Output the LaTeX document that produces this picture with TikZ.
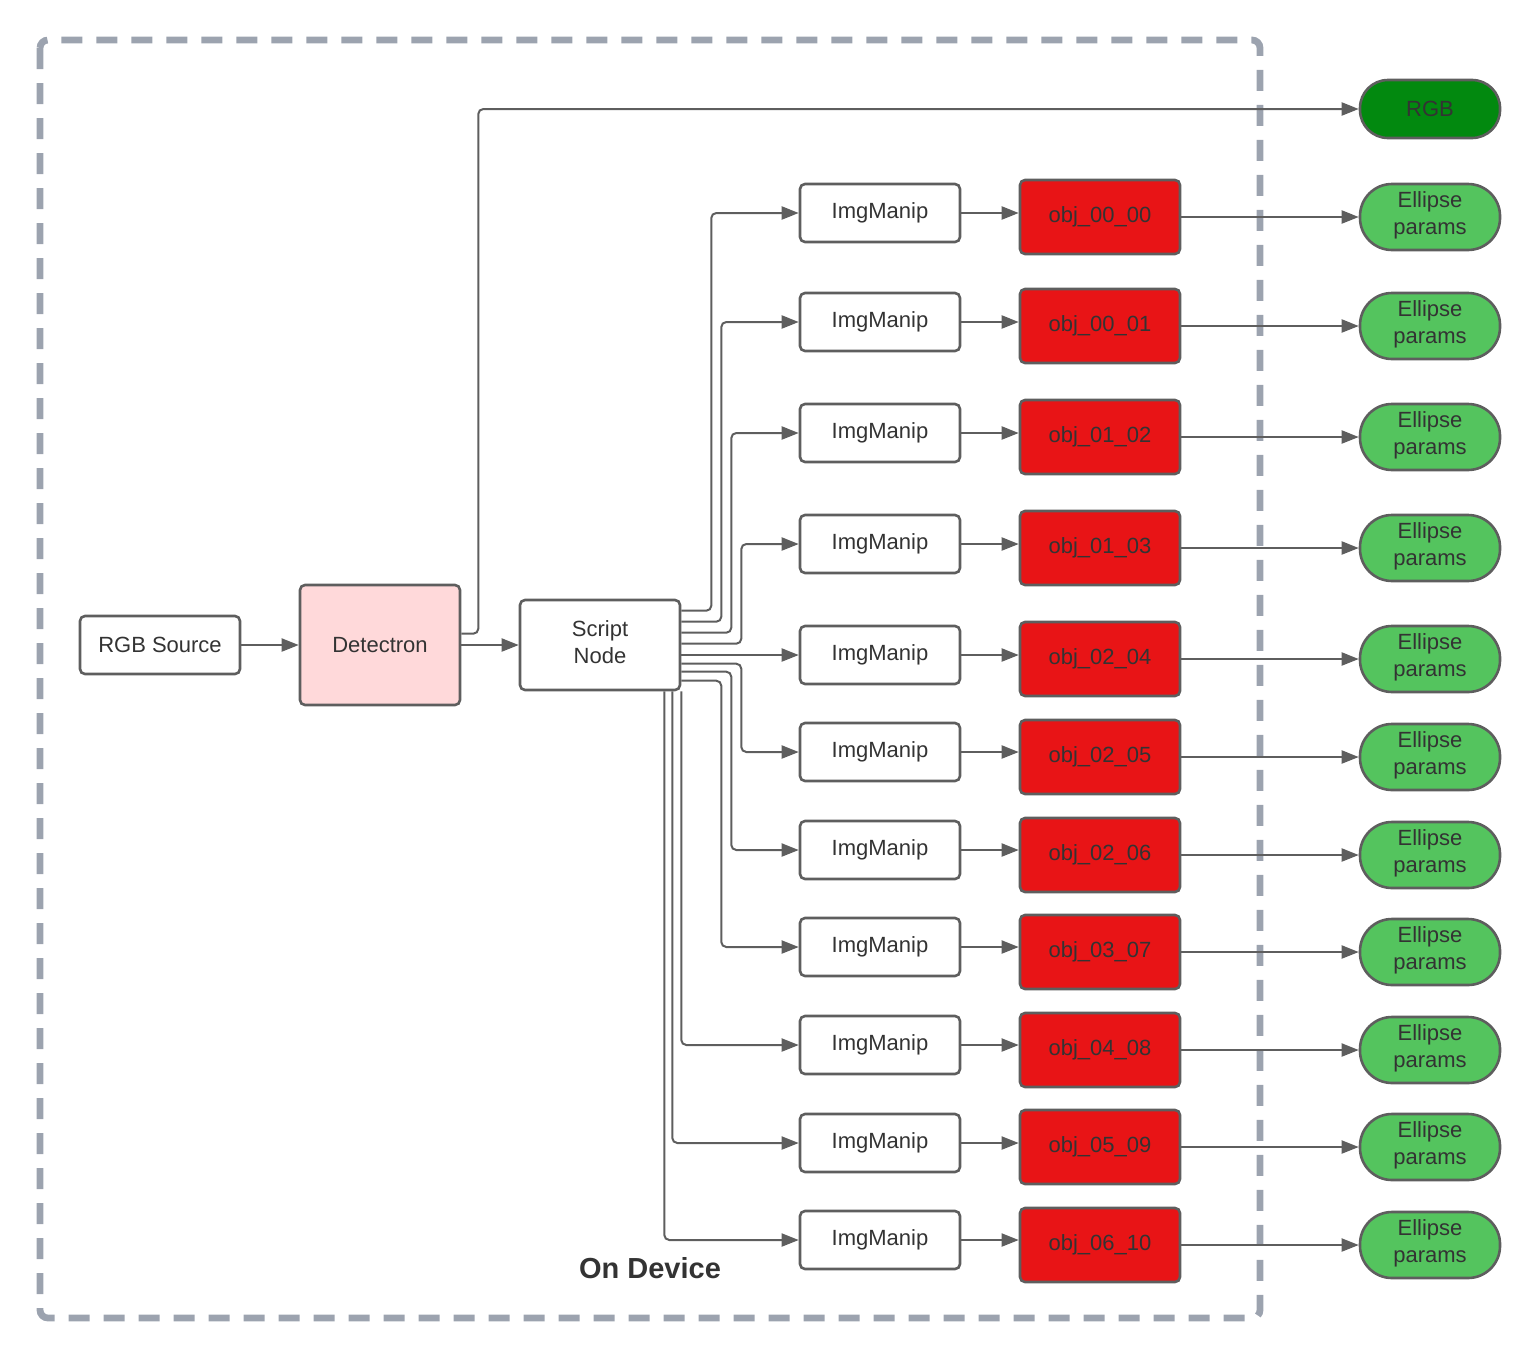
\documentclass[tikz,border=0pt]{standalone}
\usepackage{fontspec}
\setmainfont{Liberation Sans}
\usetikzlibrary{arrows.meta,calc}
\definecolor{bord}{HTML}{5E5E5E}
\definecolor{txt}{HTML}{333333}
\definecolor{redf}{HTML}{E81416}
\definecolor{greenf}{HTML}{54C45E}
\definecolor{dgreen}{HTML}{02890F}
\definecolor{pinkf}{HTML}{FFD9DA}
\definecolor{dashc}{HTML}{9CA3AF}
\begin{document}
\begin{tikzpicture}[x=0.5pt,y=-0.5pt,
  font=\fontsize{11pt}{13.5pt}\selectfont, text=txt,
  box/.style={draw=bord, line width=1.3pt, rounded corners=2.5pt, fill=white, inner sep=0pt, align=center},
  imgbox/.style={box, minimum width=80pt, minimum height=29pt},
  objbox/.style={box, fill=redf, minimum width=80pt, minimum height=37pt},
  ellbox/.style={box, fill=greenf, minimum width=70pt, minimum height=33pt, rounded corners=16pt, text depth=4.4pt},
  conn/.style={draw=bord, line width=1pt, rounded corners=2.5pt, -{Triangle[length=8.5pt,width=6.5pt]}}]
\useasboundingbox (0,0) rectangle (1540,1360);
% device frame
\draw[dashc, line width=3.4pt, dash pattern=on 10.5pt off 7pt, rounded corners=4pt] (40,40) rectangle (1260,1318);
\node[font=\fontsize{14.5pt}{17pt}\selectfont\bfseries] (ondev) at (650,1268) {On Device};
% main nodes
\node[box, minimum width=80pt, minimum height=29pt] (src) at (160,645) {RGB Source};
\node[box, fill=pinkf, minimum width=80pt, minimum height=60pt] (det) at (380,645) {Detectron};
\node[box, minimum width=80pt, minimum height=45pt, text depth=3.3pt] (sc) at (600,645) {Script\\Node};
\node[box, fill=dgreen, minimum width=70pt, minimum height=29pt, rounded corners=14pt] (rgb) at (1430,109) {RGB};
\draw[conn] (src) -- (det);
\draw[conn] (det) -- (sc);
\draw[conn] ($(det.north east)+(0,50)$) -- ++(17,0) |- (rgb.west);
% rows
\foreach \i/\yi/\yo/\lab in {0/213/217/00\_00,1/322/326/00\_01,2/433/437/01\_02,3/544/548/01\_03,4/655/659/02\_04,5/752/757/02\_05,6/850/855/02\_06,7/947/952/03\_07,8/1045/1050/04\_08,9/1143/1147/05\_09,10/1240/1245/06\_10}{
  \node[imgbox] (img\i) at (880,\yi) {ImgManip};
  \node[objbox] (obj\i) at (1100,\yo) {obj\_\lab};
  \node[ellbox] (ell\i) at (1430,\yo) {Ellipse\\params};
  \draw[conn] (img\i.east) -- (img\i.east -| obj\i.west);
  \draw[conn] (obj\i.east) -- (ell\i.west);
}
% script fan-out
\draw[conn] ($(sc.north east)+(0,12)$) -- ++(30,0) |- (img0.west);
\draw[conn] ($(sc.north east)+(0,23)$) -- ++(40,0) |- (img1.west);
\draw[conn] ($(sc.north east)+(0,34)$) -- ++(50,0) |- (img2.west);
\draw[conn] ($(sc.north east)+(0,45)$) -- ++(60,0) |- (img3.west);
\draw[conn] (img4.west -| sc.east) -- (img4.west);
\draw[conn] ($(sc.north east)+(0,65)$) -- ++(60,0) |- (img5.west);
\draw[conn] ($(sc.north east)+(0,73)$) -- ++(50,0) |- (img6.west);
\draw[conn] ($(sc.north east)+(0,82)$) -- ++(40,0) |- (img7.west);
\draw[conn] (sc.south east) |- (img8.west);
\draw[conn] ($(sc.south east)+(-9,0)$) |- (img9.west);
\draw[conn] ($(sc.south east)+(-17,0)$) |- (img10.west);
\end{tikzpicture}
\end{document}
